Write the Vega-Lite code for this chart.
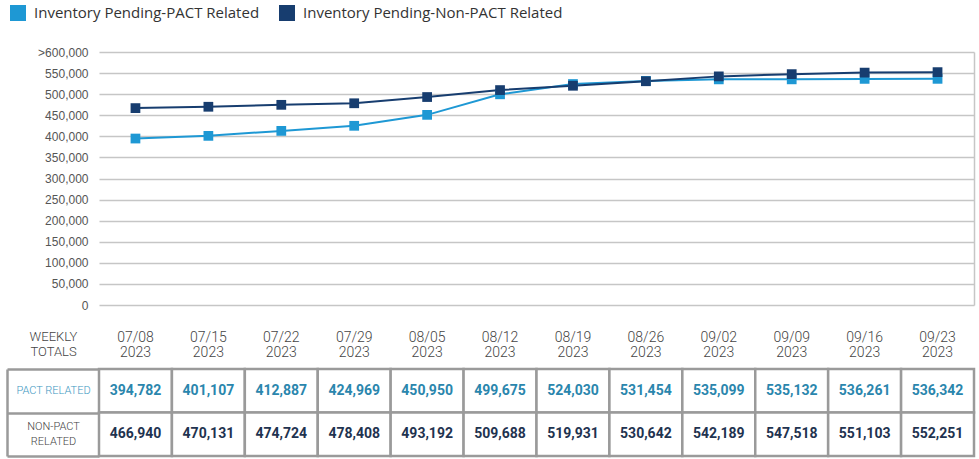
{
  "$schema": "https://vega.github.io/schema/vega-lite/v6.json",
  "background": "white",
  "padding": 5,
  "config": {"view": {"stroke": null}, "font": "Roboto"},
  "data": {"values": [
    {"date": "07/08", "pact": 394782, "nonpact": 466940},
    {"date": "07/15", "pact": 401107, "nonpact": 470131},
    {"date": "07/22", "pact": 412887, "nonpact": 474724},
    {"date": "07/29", "pact": 424969, "nonpact": 478408},
    {"date": "08/05", "pact": 450950, "nonpact": 493192},
    {"date": "08/12", "pact": 499675, "nonpact": 509688},
    {"date": "08/19", "pact": 524030, "nonpact": 519931},
    {"date": "08/26", "pact": 531454, "nonpact": 530642},
    {"date": "09/02", "pact": 535099, "nonpact": 542189},
    {"date": "09/09", "pact": 535132, "nonpact": 547518},
    {"date": "09/16", "pact": 536261, "nonpact": 551103},
    {"date": "09/23", "pact": 536342, "nonpact": 552251}
  ]},
  "spacing": 19,
  "vconcat": [
    {
      "width": 875,
      "height": 253,
      "transform": [{"fold": ["pact", "nonpact"], "as": ["series", "value"]}],
      "encoding": {
        "x": {"field": "date", "type": "ordinal", "scale": {"type": "point", "padding": 0.5}, "axis": null},
        "color": {
          "field": "series", "type": "nominal",
          "scale": {"domain": ["pact", "nonpact"], "range": ["#1e98d4", "#173d6f"]},
          "legend": {
            "orient": "none", "legendX": -89, "legendY": -47, "direction": "horizontal",
            "title": null, "symbolType": "square", "symbolSize": 256, "symbolStrokeWidth": 0,
            "symbolOpacity": 1,
            "labelFont": "Open Sans", "labelFontSize": 15, "labelColor": "#333",
            "labelExpr": "datum.value == 'pact' ? 'Inventory Pending-PACT Related' : 'Inventory Pending-Non-PACT Related'",
            "labelOffset": 8, "columnPadding": 19, "labelLimit": 400
          }
        }
      },
      "layer": [
        {
          "mark": {"type": "line", "strokeWidth": 2},
          "encoding": {
            "y": {
              "field": "value", "type": "quantitative",
              "scale": {"domain": [0, 600000], "nice": false},
              "axis": {
                "values": [0, 50000, 100000, 150000, 200000, 250000, 300000, 350000, 400000, 450000, 500000, 550000, 600000],
                "labelExpr": "datum.value >= 600000 ? '>600,000' : format(datum.value, ',')",
                "title": null, "ticks": false, "domain": false, "labelPadding": 11,
                "grid": true, "gridColor": "#c6c6c6", "gridWidth": 1.5,
                "labelFont": "Liberation Sans", "labelFontSize": 12, "labelColor": "#555"
              }
            }
          }
        },
        {
          "mark": {"type": "square", "size": 95, "opacity": 1},
          "encoding": {
            "y": {
              "field": "value", "type": "quantitative",
              "scale": {"domain": [0, 600000], "nice": false},
              "axis": {"orient": "right", "labels": false, "ticks": false, "grid": false, "domain": true, "domainColor": "#c6c6c6", "domainWidth": 1.5, "title": null}
            }
          }
        }
      ],
      "resolve": {"axis": {"y": "independent"}}
    },
    {
      "width": 875,
      "height": 87,
      "transform": [{"fold": ["pact", "nonpact"], "as": ["series", "value"]}],
      "encoding": {
        "x": {
          "field": "date", "type": "ordinal",
          "scale": {"paddingInner": 0, "paddingOuter": 0},
          "axis": {
            "orient": "top", "labelExpr": "[datum.value, '2023']", "ticks": false, "domain": false,
            "labelPadding": 25, "labelFont": "Roboto", "labelFontWeight": 300, "labelFontSize": 14, "labelLineHeight": 15,
            "labelColor": "#444", "labelAngle": 0, "title": null
          }
        }
      },
      "layer": [
        {
          "mark": {"type": "rect", "fill": "white", "stroke": "#9a9a9a", "strokeWidth": 2.5},
          "encoding": {
            "y": {
              "field": "series", "type": "nominal", "sort": ["pact", "nonpact"],
              "scale": {"paddingInner": 0, "paddingOuter": 0},
              "axis": {
                "orient": "left",
                "title": ["WEEKLY", "TOTALS"], "titleAngle": 0, "titleX": -46, "titleY": -39,
                "titleAlign": "center", "titleBaseline": "top", "titleFont": "Roboto",
                "titleFontWeight": 300, "titleFontSize": 13, "titleLineHeight": 15, "titleColor": "#444",
                "tickBand": "extent", "tickSize": 92, "tickColor": "#9a9a9a", "tickWidth": 2.5,
                "domain": false, "labels": false
              }
            }
          }
        },
        {
          "mark": {"type": "text", "font": "Roboto", "fontWeight": "bold", "fontSize": 14},
          "encoding": {
            "y": {
              "field": "series", "type": "nominal", "sort": ["pact", "nonpact"],
              "axis": {
                "orient": "left",
                "title": null, "ticks": false, "domain": false, "grid": false,
                "labelAlign": "center", "labelPadding": 46, "labelBaseline": "middle",
                "labelOffset": {"condition": {"test": "datum.value == 'nonpact'", "value": -7.5}, "value": 0},
                "labelExpr": "datum.value == 'pact' ? 'PACT RELATED' : ['NON-PACT', 'RELATED']",
                "labelFont": "Roboto", "labelFontWeight": 300, "labelFontSize": 11, "labelLineHeight": 15,
                "labelColor": {"condition": {"test": "datum.value == 'pact'", "value": "#3d98bf"}, "value": "#444"}
              }
            },
            "text": {"field": "value", "type": "quantitative", "format": ","},
            "fill": {"field": "series", "type": "nominal", "scale": {"domain": ["pact", "nonpact"], "range": ["#2a86ad", "#1f3350"]}, "legend": null}
          }
        },
        {
          "mark": {"type": "rect", "opacity": 0},
          "encoding": {
            "y": {
              "field": "series", "type": "nominal", "sort": ["pact", "nonpact"],
              "axis": {"orient": "left", "offset": 92, "labels": false, "ticks": false, "grid": false, "domain": true, "domainColor": "#9a9a9a", "domainWidth": 2.5, "title": null}
            }
          }
        }
      ],
      "resolve": {"axis": {"y": "independent"}}
    }
  ]
}
